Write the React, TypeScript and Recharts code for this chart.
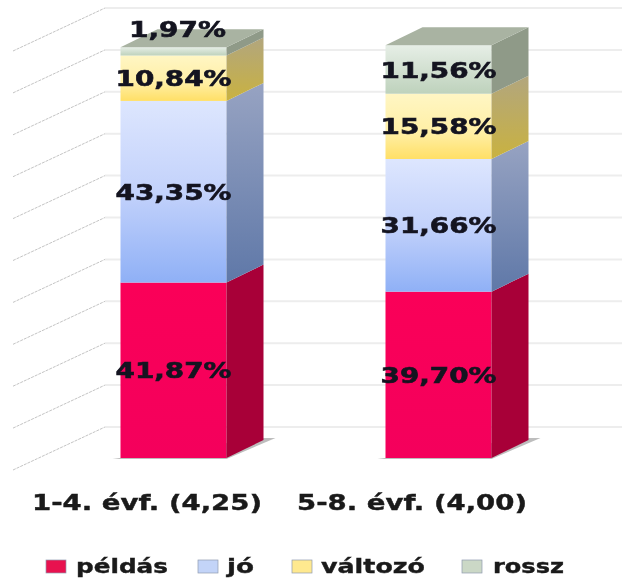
import { Bar, BarChart, CartesianGrid, LabelList, Legend, XAxis, YAxis } from "recharts";

const categories = ["1-4. évf. (4,25)", "5-8. évf. (4,00)"];
const seriesNames = ["példás", "jó", "változó", "rossz"];
const peldas = [41.87, 39.7];
const jo = [43.35, 31.66];
const valtozo = [10.84, 15.58];
const rossz = [1.97, 11.56];
const yTicks = [0, 10, 20, 30, 40, 50, 60, 70, 80, 90, 100];

const data = categories.map((name, i) => ({
  name,
  peldas: peldas[i],
  jo: jo[i],
  valtozo: valtozo[i],
  rossz: rossz[i],
}));

const DEPTH_X = 37;
const DEPTH_Y = 18;
const FONT = "'DejaVu Sans', sans-serif";

const legendSwatches = ["#E8124F", "#C3D4F8", "#FFE98F", "#CBD8C6"];

const legendLayout = [
  { swatch: 46, text: 76, len: 92 },
  { swatch: 198, text: 227, len: 27 },
  { swatch: 292, text: 321, len: 104 },
  { swatch: 462, text: 493, len: 71 },
];

const GridLine = (props: any) => {
  const { y1 } = props;
  const backY = y1 - 31;
  return (
    <g>
      <line x1={105} y1={backY} x2={622} y2={backY} stroke="#EDEDED" strokeWidth={2} />
      <line x1={13} y1={y1 + 12} x2={105} y2={backY} stroke="#C4C4C4" strokeWidth={1} strokeDasharray="3 1" />
    </g>
  );
};

const makeShape = (id: string, side: string, topFace?: string, floor?: boolean) => (props: any) => {
  const { x, y, width, height } = props;
  const r = x + width;
  const b = y + height;
  return (
    <g>
      {floor && (
        <polygon
          points={`${x - 8},${b + 1} ${r},${b + 1} ${r + DEPTH_X + 12},${b - DEPTH_Y - 2} ${r + DEPTH_X},${b - DEPTH_Y - 2}`}
          fill="#BDBDBD"
        />
      )}
      <rect x={x} y={y} width={width} height={height} fill={`url(#${id})`} />
      <polygon
        points={`${r},${b} ${r + DEPTH_X},${b - DEPTH_Y} ${r + DEPTH_X},${y - DEPTH_Y} ${r},${y}`}
        fill={side}
      />
      {topFace && (
        <polygon
          points={`${x},${y} ${x + DEPTH_X},${y - DEPTH_Y} ${r + DEPTH_X},${y - DEPTH_Y} ${r},${y}`}
          fill={topFace}
        />
      )}
    </g>
  );
};

const renderValue = (props: any) => {
  const { x, y, width, height, value } = props;
  const text = `${value.toFixed(2).replace(".", ",")}%`;
  const small = value < 3;
  return (
    <text
      x={x + width / 2 + (small ? 4 : 0)}
      y={small ? y - 10 : y + height / 2 + 8}
      textAnchor="middle"
      fontFamily={FONT}
      fontWeight="bold"
      fontSize={21}
      fill="#141420"
      stroke="#141420"
      strokeWidth={0.6}
      textLength={small ? 97 : 116}
      lengthAdjust="spacingAndGlyphs"
    >
      {text}
    </text>
  );
};

const renderTick = (props: any) => {
  const { x, y, payload } = props;
  return (
    <text
      x={x - 26}
      y={y + 44}
      textAnchor="middle"
      fontFamily={FONT}
      fontWeight="bold"
      fontSize={21}
      fill="#1a1a1a"
      stroke="#1a1a1a"
      strokeWidth={0.4}
      textLength={230}
      lengthAdjust="spacingAndGlyphs"
    >
      {payload.value}
    </text>
  );
};

const renderLegend = () => (
  <svg width={622} height={60} style={{ display: "block" }}>
    {seriesNames.map((name, i) => (
      <g key={name}>
        <rect x={legendLayout[i].swatch} y={42} width={20} height={13} fill={legendSwatches[i]} stroke="#8f9ab0" strokeWidth={0.7} />
        <text
          x={legendLayout[i].text}
          y={55}
          fontFamily={FONT}
          fontWeight="bold"
          fontSize={20}
          fill="#1a1a1a"
          stroke="#1a1a1a"
          strokeWidth={0.4}
          textLength={legendLayout[i].len}
          lengthAdjust="spacingAndGlyphs"
        >
          {name}
        </text>
      </g>
    ))}
  </svg>
);

export default function App() {
  return (
    <div style={{ position: "absolute", left: 0, top: 0, filter: "blur(0.6px)" }}>
      <BarChart
        width={622}
        height={578}
        data={data}
        margin={{ top: 39, right: 51.5, left: 40.5, bottom: 0 }}
        barSize={106}
        style={{ background: "#fff" }}
      >
        <defs>
          <linearGradient id="gPeldas" x1="0" y1="0" x2="0" y2="1">
            <stop offset="0" stopColor="#FA0058" />
            <stop offset="1" stopColor="#F4005C" />
          </linearGradient>
          <linearGradient id="gJo" x1="0" y1="0" x2="0" y2="1">
            <stop offset="0" stopColor="#DDE6FE" />
            <stop offset="0.5" stopColor="#C3D2FB" />
            <stop offset="1" stopColor="#8FB0F6" />
          </linearGradient>
          <linearGradient id="gValtozo" x1="0" y1="0" x2="0" y2="1">
            <stop offset="0" stopColor="#FFF6C4" />
            <stop offset="0.6" stopColor="#FFEFA5" />
            <stop offset="1" stopColor="#FFDF66" />
          </linearGradient>
          <linearGradient id="gRossz" x1="0" y1="0" x2="0" y2="1">
            <stop offset="0" stopColor="#E6EEE6" />
            <stop offset="1" stopColor="#BED2BC" />
          </linearGradient>
          <linearGradient id="sJo" x1="0" y1="0" x2="0" y2="1">
            <stop offset="0" stopColor="#97A3C2" />
            <stop offset="1" stopColor="#5F78A8" />
          </linearGradient>
          <linearGradient id="sValtozo" x1="0" y1="0" x2="0" y2="1">
            <stop offset="0" stopColor="#B2A67E" />
            <stop offset="1" stopColor="#C9B240" />
          </linearGradient>
        </defs>
        <CartesianGrid vertical={false} horizontal={GridLine} />
        <XAxis dataKey="name" axisLine={false} tickLine={false} height={60} tick={renderTick} interval={0} />
        <YAxis hide domain={[0, 100]} ticks={yTicks} />
        <Legend content={renderLegend} height={60} wrapperStyle={{ left: 0, width: 622 }} />
        <Bar
          dataKey="peldas"
          name={seriesNames[0]}
          stackId="a"
          isAnimationActive={false}
          shape={makeShape("gPeldas", "#A80038", undefined, true)}
        >
          <LabelList dataKey="peldas" content={renderValue} />
        </Bar>
        <Bar dataKey="jo" name={seriesNames[1]} stackId="a" isAnimationActive={false} shape={makeShape("gJo", "url(#sJo)")}>
          <LabelList dataKey="jo" content={renderValue} />
        </Bar>
        <Bar
          dataKey="valtozo"
          name={seriesNames[2]}
          stackId="a"
          isAnimationActive={false}
          shape={makeShape("gValtozo", "url(#sValtozo)")}
        >
          <LabelList dataKey="valtozo" content={renderValue} />
        </Bar>
        <Bar
          dataKey="rossz"
          name={seriesNames[3]}
          stackId="a"
          isAnimationActive={false}
          shape={makeShape("gRossz", "#8F9A88", "#A9B3A2")}
        >
          <LabelList dataKey="rossz" content={renderValue} />
        </Bar>
      </BarChart>
    </div>
  );
}
